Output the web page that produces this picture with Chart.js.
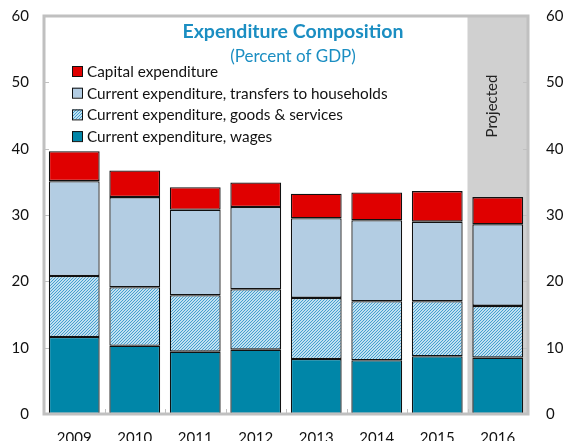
<!DOCTYPE html>
<html>
<head>
<meta charset="utf-8">
<script src="https://cdn.jsdelivr.net/npm/chart.js@4.4.1/dist/chart.umd.min.js"></script>
<style>
  html, body { margin: 0; padding: 0; background: #fff; }
  #wrap { width: 565px; height: 441px; }
</style>
</head>
<body>
<div id="wrap"><canvas id="chart" width="565" height="441"></canvas></div>
<script>
const years = ["2009", "2010", "2011", "2012", "2013", "2014", "2015", "2016"];
const wages = [11.6, 10.3, 9.4, 9.7, 8.3, 8.1, 8.7, 8.5];
const goodsServices = [9.2, 8.8, 8.5, 9.1, 9.2, 8.9, 8.3, 7.8];
const transfers = [14.3, 13.6, 12.9, 12.4, 12.0, 12.2, 12.0, 12.3];
const capital = [4.5, 4.0, 3.4, 3.7, 3.7, 4.2, 4.6, 4.1];
const yTicks = [0, 10, 20, 30, 40, 50, 60];
const projectedFrom = "2016";

const FONT = "Lato, 'DejaVu Sans', sans-serif";

// fine diagonal hatch used for goods & services
function hatch() {
  const c = document.createElement("canvas");
  c.width = 3; c.height = 3;
  const g = c.getContext("2d");
  g.fillStyle = "#c0e0f1";
  g.fillRect(0, 0, 3, 3);
  g.fillStyle = "#449fce";
  for (let i = 0; i < 3; i++) g.fillRect(i, 2 - i, 1, 1);
  return g.createPattern(c, "repeat");
}

const datasets = [
  { label: "Current expenditure, wages", data: wages, backgroundColor: "#0086a8" },
  { label: "Current expenditure, goods & services", data: goodsServices, backgroundColor: hatch() },
  { label: "Current expenditure, transfers to households", data: transfers, backgroundColor: "#b3cde3" },
  { label: "Capital expenditure", data: capital, backgroundColor: "#e00000" }
].map(d => Object.assign(d, {
  borderColor: "#111",
  borderWidth: 1.3,
  borderSkipped: false,
  barPercentage: 0.84,
  categoryPercentage: 1
}));

const decor = {
  id: "decor",
  beforeDatasetsDraw(chart) {
    const { ctx, chartArea: a, scales } = chart;
    const x = scales.x;
    const i = years.indexOf(projectedFrom);
    const step = x.getPixelForValue(1) - x.getPixelForValue(0);
    const left = x.getPixelForValue(i) - step / 2;
    ctx.save();
    ctx.fillStyle = "#d0d0d0";
    ctx.fillRect(left, a.top, a.right - left, a.bottom - a.top);
    // small ticks at category edges and value steps
    ctx.strokeStyle = "#c0c0c0";
    ctx.lineWidth = 1;
    for (let k = 1; k < years.length; k++) {
      const px = Math.round(x.getPixelForValue(k) - step / 2) + 0.5;
      ctx.beginPath(); ctx.moveTo(px, a.bottom); ctx.lineTo(px, a.bottom - 5); ctx.stroke();
    }
    yTicks.forEach(v => {
      const py = Math.round(scales.y.getPixelForValue(v)) + 0.5;
      ctx.beginPath(); ctx.moveTo(a.left, py); ctx.lineTo(a.left + 5, py); ctx.stroke();
      ctx.beginPath(); ctx.moveTo(a.right, py); ctx.lineTo(a.right - 5, py); ctx.stroke();
    });
    ctx.restore();
  },
  afterDatasetsDraw(chart) {
    const { ctx, chartArea: a, scales } = chart;
    ctx.save();
    // frame
    ctx.strokeStyle = "#c0c0c0";
    ctx.lineWidth = 3;
    ctx.strokeRect(a.left, a.top, a.right - a.left, a.bottom - a.top);

    // title
    ctx.fillStyle = "#1b8ec2";
    ctx.textAlign = "center";
    ctx.textBaseline = "middle";
    ctx.font = "bold 19.5px " + FONT;
    ctx.fillText("Expenditure Composition", 293, 32);
    ctx.font = "17px " + FONT;
    ctx.fillText("(Percent of GDP)", 293, 57);

    // legend, top of stack first
    ctx.textAlign = "left";
    ctx.font = "15.3px " + FONT;
    const order = chart.data.datasets.slice().reverse();
    order.forEach((d, k) => {
      const cy = 71 + k * 21.7;
      ctx.fillStyle = d.backgroundColor;
      ctx.fillRect(72, cy - 5, 10, 10);
      ctx.strokeStyle = "#111";
      ctx.lineWidth = 1;
      ctx.strokeRect(72.5, cy - 4.5, 10, 10);
      ctx.fillStyle = "#111";
      ctx.fillText(d.label, 87, cy + 1);
    });

    // projected label
    const x = scales.x;
    const cx = x.getPixelForValue(years.indexOf(projectedFrom)) - 6;
    ctx.translate(cx, 106);
    ctx.rotate(-Math.PI / 2);
    ctx.textAlign = "center";
    ctx.fillStyle = "#222";
    ctx.font = "15px " + FONT;
    ctx.fillText("Projected", 0, 0);
    ctx.restore();
  }
};

const tickFont = { family: FONT, size: 15 };

// fixed sizes so the plot frame lands where the original has it
function fixVertical(w) {
  return s => { s.width = w; s.paddingTop = 0; s.paddingBottom = 0; };
}

new Chart(document.getElementById("chart"), {
  type: "bar",
  data: { labels: years, datasets },
  options: {
    responsive: false,
    animation: false,
    events: [],
    layout: { padding: { top: 16, left: 0, right: 0, bottom: 0 } },
    plugins: { legend: { display: false }, title: { display: false }, tooltip: { enabled: false } },
    scales: {
      x: {
        stacked: true,
        grid: { display: false, drawTicks: false },
        border: { display: false },
        ticks: { color: "#111", font: tickFont, padding: 15, maxRotation: 0 },
        afterFit(s) { s.height = 27; s.paddingLeft = 0; s.paddingRight = 0; }
      },
      y: {
        stacked: true,
        min: 0, max: 60,
        position: "left",
        grid: { display: false, drawTicks: false },
        border: { display: false },
        ticks: { stepSize: 10, color: "#111", font: tickFont, padding: 15 },
        afterFit: fixVertical(44)
      },
      y2: {
        min: 0, max: 60,
        position: "right",
        grid: { display: false, drawTicks: false },
        border: { display: false },
        ticks: { stepSize: 10, color: "#111", font: tickFont, padding: 18 },
        afterFit: fixVertical(37)
      }
    }
  },
  plugins: [decor]
});
</script>
</body>
</html>
